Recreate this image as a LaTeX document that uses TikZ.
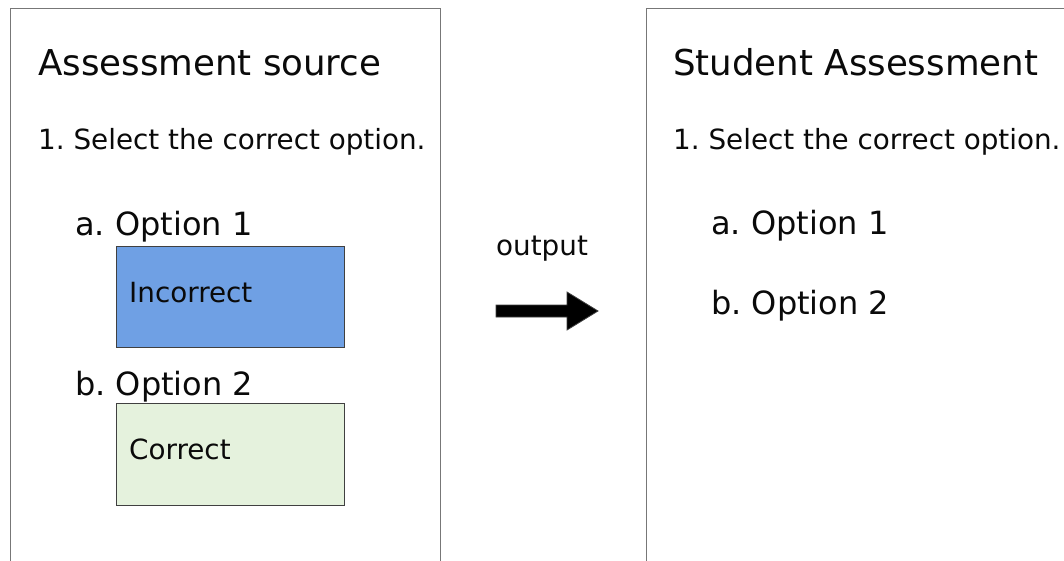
\documentclass[tikz,border=0pt]{standalone}
\usepackage{fontspec}
\setmainfont{DejaVu Sans}
\frenchspacing
\definecolor{panelline}{HTML}{777777}
\definecolor{boxline}{HTML}{404040}
\definecolor{blueopt}{HTML}{6FA0E4}
\definecolor{greenopt}{HTML}{E5F2DD}
\definecolor{txtcol}{HTML}{0A0A0A}
\begin{document}
\begin{tikzpicture}[x=1pt,y=-1pt,
  panel/.style={draw=panelline, line width=1.3pt, fill=white, rectangle, inner sep=0pt, anchor=north west},
  optbox/.style={draw=boxline, line width=1pt, rectangle, inner sep=0pt, anchor=north west, minimum width=228pt},
  titletxt/.style={anchor=base west, inner sep=0pt, text=txtcol, font=\fontsize{35.6}{40}\selectfont},
  bodytxt/.style={anchor=base west, inner sep=0pt, text=txtcol, font=\fontsize{27.8}{32}\selectfont},
  opttxt/.style={anchor=base west, inner sep=0pt, text=txtcol, font=\fontsize{32}{36}\selectfont},
  bigarrow/.style={fill=black, draw=black!75, line width=0.8pt, line join=miter}
]
\useasboundingbox (0,0) rectangle (1064,561);
\clip (0,0) rectangle (1064,561);
\fill[white] (0,0) rectangle (1064,561);

% panels
\node[panel, minimum width=430pt, minimum height=600pt] (src) at (10,8) {};
\node[panel, minimum width=500pt, minimum height=600pt] (stu) at (646,8) {};

% left panel content
\node[titletxt] (srctitle) at (38,76) {Assessment source};
\node[bodytxt] (srcq) at (38,150) {1. Select the correct option.};
\node[opttxt] (srca) at (75,235) {a. Option 1};
\node[optbox, fill=blueopt, minimum height=101pt] (incbox) at (116,246) {};
\node[bodytxt] (inctxt) at (129,302) {Incorrect};
\node[opttxt] (srcb) at (75,395) {b. Option 2};
\node[optbox, fill=greenopt, minimum height=102pt] (corbox) at (116,403) {};
\node[bodytxt] (cortxt) at (129,459) {Correct};

% output arrow
\node[bodytxt] (outlbl) at (496,255) {output};
\coordinate (arr) at (496,311);
\draw[bigarrow] (arr) ++(0,-6) -- ++(71,0) -- ++(0,-13) -- ++(31,19) -- ++(-31,19) -- ++(0,-13) -- ++(-71,0) -- cycle;

% right panel content
\node[titletxt] (stutitle) at (673,76) {Student Assessment};
\node[bodytxt] (stuq) at (673,150) {1. Select the correct option.};
\node[opttxt] (stua) at (711,234) {a. Option 1};
\node[opttxt] (stub) at (711,314) {b. Option 2};
\end{tikzpicture}
\end{document}
